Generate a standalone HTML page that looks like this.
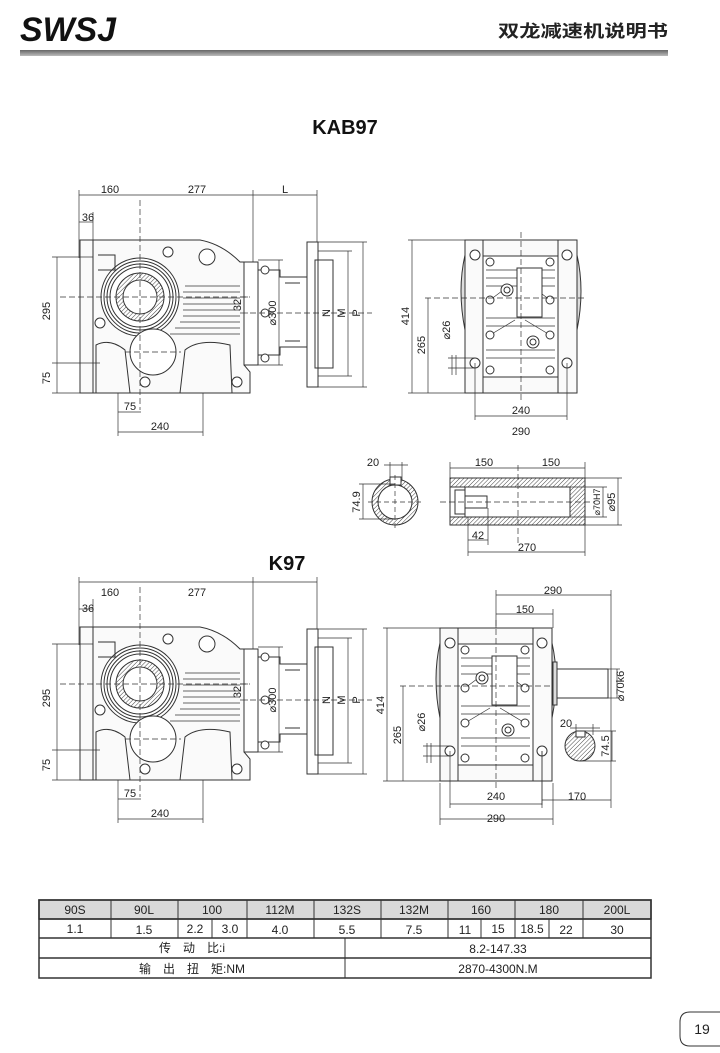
<!DOCTYPE html>
<html><head><meta charset="utf-8"><style>
html,body{margin:0;padding:0;background:#fff}
body{width:720px;height:1053px;position:relative;overflow:hidden;font-family:"Liberation Sans","Noto Sans CJK SC",sans-serif}
svg{position:absolute;left:0;top:0}
.d{font-family:"Liberation Sans",sans-serif;font-size:11px;fill:#222}
</style></head><body>
<svg width="720" height="1053" viewBox="0 0 720 1053">
<defs>
<pattern id="h" width="3" height="3" patternUnits="userSpaceOnUse" patternTransform="rotate(45)"><line x1="0" y1="0" x2="0" y2="3" stroke="#444" stroke-width="1"/></pattern>
<linearGradient id="bar" x1="0" y1="0" x2="0" y2="1"><stop offset="0" stop-color="#666"/><stop offset="1" stop-color="#bbb"/></linearGradient>
<g id="side" fill="none" stroke="#333" stroke-width="1">
 <path d="M80,240 L93,240 L200,240 Q222,244 240,262 L244,262 L244,365 L250,372 L250,393 L80,393 Z" fill="#fafafa"/>
 <line x1="93" y1="240" x2="93" y2="393"/>
 <rect x="244" y="262" width="14" height="103"/>
 <path d="M258,270 L280,270 L280,277 L307,277 L307,347 L280,347 L280,355 L258,355"/>
 <path d="M285,283 L300,283 M285,341 L300,341"/>
 <rect x="307" y="242" width="11" height="145"/>
 <rect x="315" y="260" width="18" height="108"/>
 <g stroke-width="0.8">
 <line x1="185" y1="286" x2="240" y2="286"/><line x1="183" y1="292" x2="240" y2="292"/><line x1="183" y1="298" x2="240" y2="298"/><line x1="183" y1="304" x2="240" y2="304"/><line x1="183" y1="310" x2="240" y2="310"/><line x1="183" y1="316" x2="240" y2="316"/><line x1="180" y1="322" x2="240" y2="322"/><line x1="175" y1="328" x2="240" y2="328"/><line x1="170" y1="334" x2="240" y2="334"/>
 </g>
 <circle cx="140" cy="297" r="39" fill="#fff"/><circle cx="140" cy="297" r="36"/><circle cx="140" cy="297" r="33"/><circle cx="140" cy="297" r="30"/>
 <circle cx="140" cy="297" r="24" fill="url(#h)"/><circle cx="140" cy="297" r="17" fill="#fff"/>
 <circle cx="153" cy="352" r="23" fill="#fff"/>
 <path d="M96,393 L96,345 Q110,338 125,350 L130,393 M180,393 L185,350 Q200,338 230,345 L232,393"/>
 <path d="M98,255 L115,255 L115,270 L98,270"/>
 <g fill="#fff"><circle cx="168" cy="252" r="5"/><circle cx="207" cy="257" r="8"/><circle cx="265" cy="270" r="4"/><circle cx="265" cy="313" r="4"/><circle cx="265" cy="358" r="4"/><circle cx="100" cy="323" r="5"/><circle cx="145" cy="382" r="5"/><circle cx="237" cy="382" r="5"/></g>
 <g stroke-width="0.7" stroke-dasharray="6,3">
  <line x1="60" y1="297" x2="250" y2="297"/><line x1="140" y1="200" x2="140" y2="410"/><line x1="250" y1="313" x2="372" y2="313"/><line x1="125" y1="352" x2="181" y2="352"/>
 </g>
 <g stroke-width="0.7">
  <line x1="79" y1="195" x2="317" y2="195"/>
  <line x1="79" y1="190" x2="79" y2="258"/><line x1="93" y1="212" x2="93" y2="240"/><line x1="253" y1="190" x2="253" y2="262"/><line x1="317" y1="190" x2="317" y2="242"/>
  <line x1="79" y1="222" x2="93" y2="222"/>
  <line x1="57" y1="257" x2="57" y2="393"/><line x1="52" y1="257" x2="93" y2="257"/><line x1="52" y1="363" x2="100" y2="363"/><line x1="52" y1="393" x2="80" y2="393"/>
  <line x1="118" y1="393" x2="118" y2="436"/><line x1="203" y1="393" x2="203" y2="436"/>
  <line x1="118" y1="412" x2="141" y2="412"/><line x1="118" y1="432" x2="203" y2="432"/>
  <line x1="279" y1="260" x2="279" y2="365"/><line x1="258" y1="260" x2="283" y2="260"/><line x1="258" y1="365" x2="283" y2="365"/>
  <line x1="333" y1="260" x2="333" y2="368"/><line x1="348" y1="251" x2="348" y2="376"/><line x1="363" y1="242" x2="363" y2="387"/>
  <line x1="318" y1="251" x2="352" y2="251"/><line x1="318" y1="376" x2="352" y2="376"/><line x1="318" y1="242" x2="367" y2="242"/><line x1="318" y1="387" x2="367" y2="387"/>
  <line x1="240" y1="297" x2="248" y2="297"/><line x1="240" y1="313" x2="248" y2="313"/>
 </g>
</g>
<g id="front" fill="none" stroke="#333" stroke-width="1">
 <path d="M465,255 Q457,290 465,330" fill="#ddd"/><path d="M577,255 Q585,290 577,330" fill="#ddd"/>
 <rect x="465" y="240" width="112" height="153" fill="#fafafa"/>
 <line x1="483" y1="240" x2="483" y2="393"/><line x1="558" y1="240" x2="558" y2="393"/>
 <rect x="483" y="256" width="75" height="121" fill="#fff"/>
 <g stroke-width="0.7"><line x1="486" y1="270" x2="555" y2="270"/><line x1="486" y1="278" x2="555" y2="278"/><line x1="486" y1="286" x2="555" y2="286"/><line x1="486" y1="318" x2="555" y2="318"/><line x1="486" y1="326" x2="555" y2="326"/><line x1="486" y1="350" x2="555" y2="350"/><line x1="486" y1="358" x2="555" y2="358"/>
 <path d="M490,300 L510,285 M550,300 L530,285 M490,335 L515,320 M550,335 L525,320"/></g>
 <rect x="517" y="268" width="25" height="49" fill="#fff"/>
 <g fill="#fff"><circle cx="475" cy="255" r="5"/><circle cx="567" cy="255" r="5"/><circle cx="475" cy="363" r="5"/><circle cx="567" cy="363" r="5"/>
 <circle cx="490" cy="262" r="4"/><circle cx="550" cy="262" r="4"/><circle cx="490" cy="300" r="4"/><circle cx="550" cy="300" r="4"/><circle cx="490" cy="335" r="4"/><circle cx="550" cy="335" r="4"/><circle cx="490" cy="370" r="4"/><circle cx="550" cy="370" r="4"/>
 <circle cx="507" cy="290" r="6"/><circle cx="507" cy="290" r="3"/><circle cx="533" cy="342" r="6"/><circle cx="533" cy="342" r="3"/></g>
 <g stroke-width="0.7" stroke-dasharray="6,3"><line x1="521" y1="232" x2="521" y2="400"/><line x1="425" y1="298" x2="585" y2="298"/></g>
 <g stroke-width="0.7">
  <line x1="408" y1="240" x2="465" y2="240"/><line x1="408" y1="393" x2="475" y2="393"/><line x1="412" y1="240" x2="412" y2="393"/><line x1="428" y1="298" x2="428" y2="393"/>
  <line x1="452" y1="355" x2="452" y2="375"/><line x1="456" y1="355" x2="456" y2="375"/><line x1="448" y1="358" x2="475" y2="358"/><line x1="448" y1="368" x2="475" y2="368"/>
  <line x1="475" y1="363" x2="475" y2="420"/><line x1="567" y1="363" x2="567" y2="420"/><line x1="475" y1="416" x2="567" y2="416"/>
 </g>
</g>
</defs>

<!-- header -->
<text x="20" y="41" font-family="Liberation Sans" font-size="34" font-style="italic" font-weight="bold" fill="#111" textLength="96" lengthAdjust="spacingAndGlyphs">SWSJ</text>
<text x="498" y="37" font-size="17" font-weight="bold" fill="#222" textLength="170" lengthAdjust="spacingAndGlyphs" font-family="Liberation Sans,Noto Sans CJK SC,sans-serif">双龙减速机说明书</text>
<rect x="20" y="50" width="648" height="6" fill="url(#bar)"/>

<text x="345" y="134" text-anchor="middle" font-size="20" font-weight="bold" fill="#111">KAB97</text>
<text x="287" y="570" text-anchor="middle" font-size="20" font-weight="bold" fill="#111">K97</text>

<use href="#side"/>
<use href="#side" transform="translate(0,387)"/>
<use href="#front"/>
<use href="#front" transform="translate(-25,388)"/>

<g fill="none" stroke="#333" stroke-width="1">
 <!-- sleeve section -->
 <circle cx="395" cy="502" r="23" fill="url(#h)"/><circle cx="395" cy="502" r="17" fill="#fff"/>
 <rect x="390" y="477" width="11" height="8" fill="#fff"/>
 <g stroke-width="0.7"><line x1="390" y1="462" x2="390" y2="480"/><line x1="402" y1="462" x2="402" y2="480"/><line x1="384" y1="465" x2="408" y2="465"/>
 <line x1="363" y1="484" x2="363" y2="519"/><line x1="359" y1="484" x2="395" y2="484"/><line x1="359" y1="519" x2="395" y2="519"/>
 <line x1="368" y1="502" x2="422" y2="502" stroke-dasharray="5,3"/><line x1="395" y1="475" x2="395" y2="530" stroke-dasharray="5,3"/></g>
 <rect x="450" y="478" width="135" height="47" fill="url(#h)"/>
 <rect x="465" y="487" width="105" height="30" fill="#fff"/>
 <rect x="450" y="487" width="15" height="30" fill="#fff"/>
 <rect x="455" y="490" width="10" height="24"/>
 <rect x="465" y="496" width="22" height="12"/>
 <line x1="570" y1="487" x2="570" y2="517"/>
 <g stroke-width="0.7">
  <line x1="440" y1="502" x2="595" y2="502" stroke-dasharray="6,3"/><line x1="518" y1="465" x2="518" y2="545" stroke-dasharray="6,3"/>
  <line x1="450" y1="462" x2="450" y2="478"/><line x1="585" y1="462" x2="585" y2="556"/><line x1="450" y1="468" x2="585" y2="468"/>
  <line x1="570" y1="487" x2="607" y2="487"/><line x1="570" y1="517" x2="607" y2="517"/><line x1="603" y1="487" x2="603" y2="517"/>
  <line x1="585" y1="478" x2="622" y2="478"/><line x1="585" y1="525" x2="622" y2="525"/><line x1="618" y1="478" x2="618" y2="525"/>
  <line x1="468" y1="517" x2="468" y2="556"/><line x1="488" y1="508" x2="488" y2="545"/><line x1="468" y1="540" x2="488" y2="540"/><line x1="468" y1="552" x2="585" y2="552"/>
 </g>
 <!-- bottom front extras: output shaft -->
 <rect x="553" y="669" width="55" height="29" fill="#fff"/>
 <rect x="553" y="662" width="4" height="43" fill="#ddd"/>
 <circle cx="580" cy="746" r="15" fill="url(#h)"/><rect x="576" y="731" width="9" height="6" fill="#fff"/>
 <g stroke-width="0.7">
  <line x1="496" y1="590" x2="496" y2="628"/><line x1="611" y1="590" x2="611" y2="808"/><line x1="553" y1="609" x2="553" y2="628"/>
  <line x1="496" y1="595" x2="611" y2="595"/><line x1="496" y1="614" x2="553" y2="614"/>
  <line x1="440" y1="783" x2="440" y2="825"/><line x1="553" y1="783" x2="553" y2="825"/><line x1="440" y1="819" x2="553" y2="819"/>
  <line x1="542" y1="751" x2="542" y2="805"/><line x1="542" y1="800" x2="611" y2="800"/>
  <line x1="576" y1="724" x2="576" y2="735"/><line x1="593" y1="724" x2="593" y2="735"/><line x1="570" y1="728" x2="600" y2="728"/>
  <line x1="612" y1="731" x2="612" y2="761"/><line x1="580" y1="731" x2="616" y2="731"/><line x1="580" y1="761" x2="616" y2="761"/>
 </g>
</g>

<g class="d">
 <!-- top side -->
 <text x="110" y="193" text-anchor="middle">160</text><text x="197" y="193" text-anchor="middle">277</text><text x="285" y="193" text-anchor="middle">L</text>
 <text x="88" y="221" text-anchor="middle">36</text>
 <text transform="rotate(-90 50 311)" x="50" y="311" text-anchor="middle">295</text>
 <text transform="rotate(-90 50 378)" x="50" y="378" text-anchor="middle">75</text>
 <text x="130" y="410" text-anchor="middle">75</text><text x="160" y="430" text-anchor="middle">240</text>
 <text transform="rotate(-90 241 305)" x="241" y="305" text-anchor="middle">32</text>
 <text transform="rotate(-90 276 313)" x="276" y="313" text-anchor="middle">⌀300</text>
 <text transform="rotate(-90 330 313)" x="330" y="313" text-anchor="middle">N</text>
 <text transform="rotate(-90 345 313)" x="345" y="313" text-anchor="middle">M</text>
 <text transform="rotate(-90 360 313)" x="360" y="313" text-anchor="middle">P</text>
 <!-- bottom side -->
 <text x="110" y="596" text-anchor="middle">160</text><text x="197" y="596" text-anchor="middle">277</text>
 <text x="88" y="612" text-anchor="middle">36</text>
 <text transform="rotate(-90 50 698)" x="50" y="698" text-anchor="middle">295</text>
 <text transform="rotate(-90 50 765)" x="50" y="765" text-anchor="middle">75</text>
 <text x="130" y="797" text-anchor="middle">75</text><text x="160" y="817" text-anchor="middle">240</text>
 <text transform="rotate(-90 241 692)" x="241" y="692" text-anchor="middle">32</text>
 <text transform="rotate(-90 276 700)" x="276" y="700" text-anchor="middle">⌀300</text>
 <text transform="rotate(-90 330 700)" x="330" y="700" text-anchor="middle">N</text>
 <text transform="rotate(-90 345 700)" x="345" y="700" text-anchor="middle">M</text>
 <text transform="rotate(-90 360 700)" x="360" y="700" text-anchor="middle">P</text>
 <!-- top front -->
 <text transform="rotate(-90 409 316)" x="409" y="316" text-anchor="middle">414</text>
 <text transform="rotate(-90 425 345)" x="425" y="345" text-anchor="middle">265</text>
 <text transform="rotate(-90 450 330)" x="450" y="330" text-anchor="middle">⌀26</text>
 <text x="521" y="414" text-anchor="middle">240</text><text x="521" y="435" text-anchor="middle">290</text>
 <!-- bottom front -->
 <text transform="rotate(-90 384 705)" x="384" y="705" text-anchor="middle">414</text>
 <text transform="rotate(-90 401 735)" x="401" y="735" text-anchor="middle">265</text>
 <text transform="rotate(-90 425 722)" x="425" y="722" text-anchor="middle">⌀26</text>
 <text x="496" y="800" text-anchor="middle">240</text><text x="577" y="800" text-anchor="middle">170</text><text x="496" y="822" text-anchor="middle">290</text>
 <text x="553" y="594" text-anchor="middle">290</text><text x="525" y="613" text-anchor="middle">150</text>
 <text transform="rotate(-90 624 686)" x="624" y="686" text-anchor="middle">⌀70k6</text>
 <text x="566" y="727" text-anchor="middle">20</text>
 <text transform="rotate(-90 609 746)" x="609" y="746" text-anchor="middle">74.5</text>
 <!-- shaft sleeve -->
 <text x="373" y="466" text-anchor="middle">20</text>
 <text transform="rotate(-90 360 502)" x="360" y="502" text-anchor="middle">74.9</text>
 <text x="484" y="466" text-anchor="middle">150</text><text x="551" y="466" text-anchor="middle">150</text>
 <text transform="rotate(-90 600 502)" x="600" y="502" text-anchor="middle" font-size="9">⌀70H7</text>
 <text transform="rotate(-90 615 502)" x="615" y="502" text-anchor="middle">⌀95</text>
 <text x="478" y="539" text-anchor="middle">42</text><text x="527" y="551" text-anchor="middle">270</text>
</g>
<g stroke="#333" stroke-width="0.7"><line x1="605" y1="669" x2="620" y2="669"/><line x1="605" y1="698" x2="620" y2="698"/><line x1="617" y1="669" x2="617" y2="698"/></g>

<!-- table -->
<g stroke="#333" stroke-width="1.5" fill="none">
 <rect x="39" y="900" width="612" height="19" fill="#d9d9d9"/>
 <rect x="39" y="900" width="612" height="78"/>
 <line x1="39" y1="919" x2="651" y2="919"/><line x1="39" y1="938" x2="651" y2="938"/><line x1="39" y1="958" x2="651" y2="958"/>
 <g stroke-width="1"><line x1="111" y1="900" x2="111" y2="938"/><line x1="178" y1="900" x2="178" y2="938"/><line x1="247" y1="900" x2="247" y2="938"/><line x1="314" y1="900" x2="314" y2="938"/><line x1="381" y1="900" x2="381" y2="938"/><line x1="448" y1="900" x2="448" y2="938"/><line x1="515" y1="900" x2="515" y2="938"/><line x1="583" y1="900" x2="583" y2="938"/>
 <line x1="212" y1="919" x2="212" y2="938"/><line x1="481" y1="919" x2="481" y2="938"/><line x1="549" y1="919" x2="549" y2="938"/>
 <line x1="345" y1="938" x2="345" y2="978"/></g>
</g>
<g font-size="12" fill="#222" text-anchor="middle">
 <text x="75" y="914">90S</text><text x="144" y="914">90L</text><text x="212" y="914">100</text><text x="280" y="914">112M</text><text x="347" y="914">132S</text><text x="414" y="914">132M</text><text x="481" y="914">160</text><text x="549" y="914">180</text><text x="617" y="914">200L</text>
 <text x="75" y="933">1.1</text><text x="144" y="934">1.5</text><text x="195" y="933">2.2</text><text x="230" y="933">3.0</text><text x="280" y="934">4.0</text><text x="347" y="934">5.5</text><text x="414" y="934">7.5</text><text x="465" y="934">11</text><text x="498" y="933">15</text><text x="532" y="933">18.5</text><text x="566" y="934">22</text><text x="617" y="934">30</text>
 <text x="192" y="952" xml:space="preserve">传　动　比:i</text><text x="498" y="953">8.2-147.33</text>
 <text x="192" y="973" xml:space="preserve">输　出　扭　矩:NM</text><text x="498" y="973">2870-4300N.M</text>
</g>
<path d="M720,1012 L690,1012 Q680,1012 680,1022 L680,1036 Q680,1046 690,1046 L720,1046" fill="none" stroke="#333" stroke-width="1"/>
<text x="702" y="1034" text-anchor="middle" font-size="14" fill="#222">19</text>
</svg>
</body></html>
